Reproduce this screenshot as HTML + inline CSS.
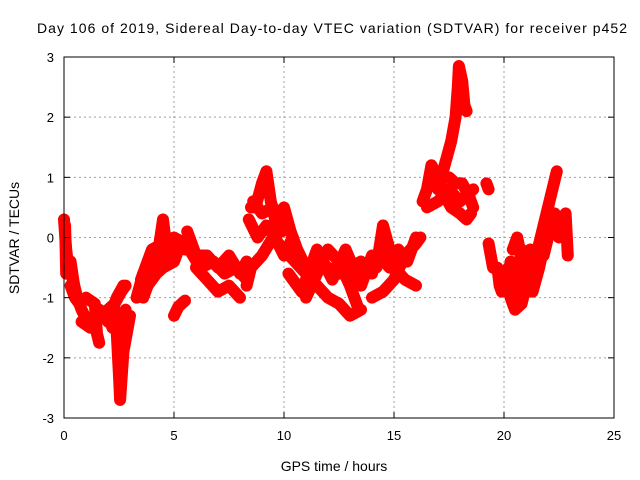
<!DOCTYPE html>
<html><head><meta charset="utf-8"><style>
body{margin:0;background:#fff;}
svg{display:block;font-family:"Liberation Sans",sans-serif;}
</style></head><body>
<svg id="chart" width="640" height="480">
<text x="332" y="33" text-anchor="middle" font-size="14" textLength="590" lengthAdjust="spacing">Day 106 of 2019, Sidereal Day-to-day VTEC variation (SDTVAR) for receiver p452</text>
<text x="334" y="471" text-anchor="middle" font-size="14">GPS time / hours</text>
<text transform="translate(19,238) rotate(-90)" text-anchor="middle" font-size="14">SDTVAR / TECUs</text>
<g id="grid"></g><g id="marks"></g><g id="axes"></g>
</svg>
<script>
const xTicks=[0,5,10,15,20,25];
const yTicks=[-3,-2,-1,0,1,2,3];
const tracks=[
[[0,0.3],[0.1,-0.2],[0.2,-0.5],[0.4,-0.7],[0.6,-1.0],[0.8,-1.2],[1.0,-1.35],[1.3,-1.4],[1.6,-1.3],[2.0,-1.2],[2.3,-1.1],[2.6,-0.9],[2.8,-0.8]],
[[0.3,-0.8],[0.5,-1.0],[0.7,-1.1],[1.0,-1.0],[1.4,-1.1],[1.5,-1.6],[1.6,-1.75]],
[[2.3,-1.2],[2.4,-1.6],[2.5,-2.3],[2.55,-2.7],[2.7,-1.9],[2.9,-1.5],[3.0,-1.3]],
[[2.0,-1.3],[2.2,-1.5],[2.5,-1.4],[2.8,-1.2]],
[[0.05,0.2],[0.1,-0.6],[0.3,-0.4],[0.5,-0.9]],
[[0.8,-1.4],[1.2,-1.5],[1.6,-1.2],[2.0,-1.4],[2.4,-1.0],[2.7,-0.8]],
[[3.3,-1.0],[3.6,-0.6],[4.0,-0.4],[4.3,-0.2],[4.5,0.3],[4.7,-0.3],[5.0,-0.1],[5.5,-0.2]],
[[3.4,-0.9],[3.8,-0.8],[4.2,-0.6],[4.5,-0.5],[5.0,-0.4],[5.3,-0.1]],
[[3.5,-0.7],[4.0,-0.2],[4.5,-0.1],[5.0,0.0],[5.5,-0.1]],
[[3.6,-1.0],[4.0,-0.6],[4.4,-0.3],[4.8,-0.2]],
[[5.0,-1.3],[5.2,-1.15],[5.5,-1.05]],
[[5.6,0.1],[6.0,-0.3],[6.5,-0.3],[7.0,-0.5],[7.5,-0.3],[8.0,-0.6],[8.3,-0.4]],
[[6.0,-0.5],[6.5,-0.7],[7.0,-0.9],[7.5,-0.8],[8.0,-1.0]],
[[5.7,-0.2],[6.2,-0.5],[6.8,-0.4],[7.3,-0.6],[7.8,-0.5],[8.3,-0.7]],
[[8.5,0.5],[8.7,0.5],[9.0,0.9],[9.2,1.1],[9.4,0.6],[9.6,0.3],[10.0,0.2]],
[[8.4,0.3],[8.8,0.0],[9.2,0.2],[9.6,0.0],[10.0,-0.3],[10.4,0.0]],
[[8.6,0.6],[9.0,0.4],[9.5,0.5],[9.9,0.1]],
[[8.3,-0.8],[8.5,-0.5],[9.0,-0.3],[9.5,0.0],[10.0,-0.2],[10.5,-0.4],[11.0,-0.6],[11.5,-0.8],[12.0,-1.0],[12.5,-1.1],[13.0,-1.3],[13.5,-1.2]],
[[10.0,0.5],[10.3,0.1],[10.6,-0.2],[11.0,-0.5],[11.5,-0.4],[12.0,-0.5],[12.5,-0.6],[13.0,-0.5],[13.5,-0.4],[14.0,-0.6]],
[[11.0,-1.0],[11.5,-0.6],[12.0,-0.2],[12.5,-0.4],[13.0,-0.8],[13.4,-1.2]],
[[10.2,-0.6],[10.8,-0.9],[11.5,-0.2],[12.2,-0.7],[12.8,-0.2],[13.5,-0.8],[14.0,-0.3]],
[[14.2,-0.5],[14.5,0.2],[14.8,-0.2],[15.0,-0.5],[15.5,-0.7],[16.0,-0.8]],
[[14.0,-1.0],[14.5,-0.9],[15.0,-0.7],[15.5,-0.3],[16.0,-0.1],[16.2,0.0]],
[[14.3,-0.3],[14.8,-0.5],[15.2,-0.2],[15.6,-0.4],[16.0,0.0]],
[[16.3,0.6],[16.5,0.8],[16.7,1.2],[17.0,1.0],[17.3,0.7],[17.6,0.5],[18.0,0.4],[18.3,0.3],[18.5,0.4]],
[[17.0,0.8],[17.3,1.2],[17.6,1.6],[17.8,2.0],[17.9,2.5],[17.95,2.85],[18.1,2.6],[18.2,2.2],[18.3,2.1]],
[[17.5,1.0],[17.8,0.9],[18.1,0.9],[18.4,0.7],[18.6,0.5]],
[[16.5,0.5],[17.0,0.6],[17.5,0.8],[18.0,0.6],[18.6,0.8]],
[[19.2,0.9],[19.3,0.8]],
[[19.3,-0.1],[19.5,-0.5],[19.7,-0.5],[19.8,-0.8],[19.9,-0.9]],
[[20.2,-0.5],[20.3,-1.0],[20.5,-1.2],[20.8,-1.1],[21.0,-0.8],[21.2,-0.6],[21.4,-0.4],[21.6,-0.1],[21.8,0.2],[22.0,0.5],[22.2,0.8],[22.4,1.1]],
[[20.2,-0.8],[20.5,-0.9],[20.8,-0.2],[21.0,-0.4],[21.3,-0.9],[21.6,-0.5],[22.0,0.2],[22.3,0.4],[22.5,0.0],[22.8,0.4],[22.9,-0.3]],
[[20.4,-0.2],[20.6,0.0],[21.0,-0.7]],
[[20.3,-0.4],[20.7,-0.6],[21.2,-0.2],[21.8,-0.3],[22.2,0.3],[22.8,0.1]]
];
const X0=64,X1=614,Y0=418,Y1=57;
const sx=t=>X0+(t-0)/(25-0)*(X1-X0);
const sy=v=>Y0-(v+3)/6*(Y0-Y1);
const NS="http://www.w3.org/2000/svg";
function mk(tag,attrs,parent){const e=document.createElementNS(NS,tag);for(const k in attrs)e.setAttribute(k,attrs[k]);parent.appendChild(e);return e;}
const grid=document.getElementById('grid'),axes=document.getElementById('axes'),marks=document.getElementById('marks');
xTicks.forEach(t=>{
 if(t>0&&t<25){const g=mk('line',{x1:sx(t),x2:sx(t),y1:Y0,y2:Y1,stroke:'#a0a0a0','stroke-dasharray':'2,3'},grid);
 
 }
 mk('line',{x1:sx(t),x2:sx(t),y1:Y0,y2:Y0-6,stroke:'#000'},axes);
 mk('line',{x1:sx(t),x2:sx(t),y1:Y1,y2:Y1+6,stroke:'#000'},axes);
 const l=mk('text',{x:sx(t),y:Y0+22,'text-anchor':'middle','font-size':'13'},axes);l.textContent=t;
 
 
});
yTicks.forEach(v=>{
 if(v>-3&&v<3){const g=mk('line',{x1:X0,x2:X1,y1:sy(v),y2:sy(v),stroke:'#a0a0a0','stroke-dasharray':'2,3'},grid);
 
 }
 mk('line',{x1:X0,x2:X0+6,y1:sy(v),y2:sy(v),stroke:'#000'},axes);
 mk('line',{x1:X1,x2:X1-6,y1:sy(v),y2:sy(v),stroke:'#000'},axes);
 const l=mk('text',{x:X0-10,y:sy(v)+5,'text-anchor':'end','font-size':'13'},axes);l.textContent=v;
 
 
});
const box=mk('rect',{x:X0,y:Y1,width:X1-X0,height:Y0-Y1,fill:'none',stroke:'#000'},axes);


tracks.forEach(tr=>{
 const pl=mk('polyline',{points:tr.map(p=>sx(p[0])+','+sy(p[1])).join(' '),fill:'none',stroke:'#ff0000','stroke-width':'12','stroke-linejoin':'round','stroke-linecap':'round'},marks);
 
 
 tr.forEach(p=>{
  const x=sx(p[0]),y=sy(p[1]);
  const m=mk('path',{d:`M${x-4.5},${y}H${x+4.5}M${x},${y-4.5}V${y+4.5}`,stroke:'#ff0000','stroke-width':'1.2'},marks);
  
  
 });
});
</script>
</body></html>
